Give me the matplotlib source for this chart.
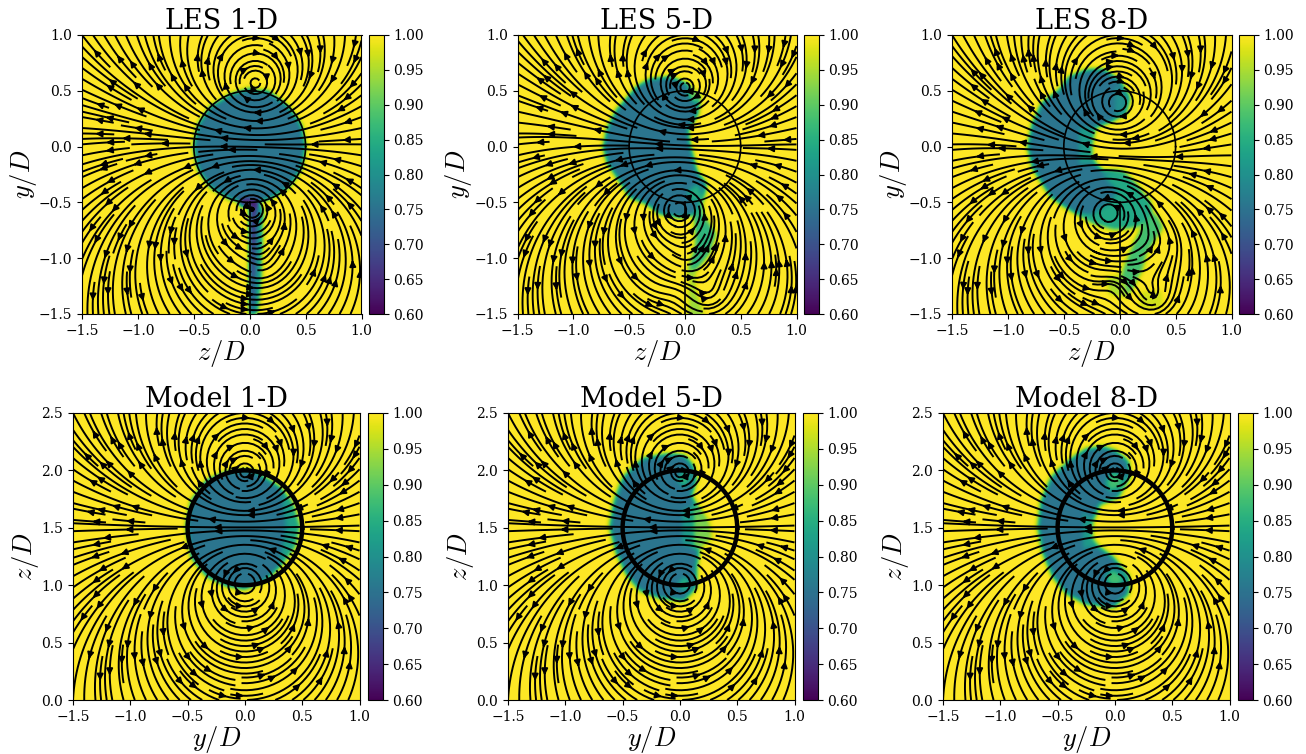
import numpy as np
import matplotlib
matplotlib.use("Agg")
import matplotlib.pyplot as plt
from matplotlib.path import Path

plt.rcParams['font.family'] = 'DejaVu Serif'
plt.rcParams['mathtext.fontset'] = 'cm'

W, H = 1306, 754

# Wake regions: (outline as (horizontal, vertical) points, velocity ratio)
les1_wake = [
    ([(0.0, 0.5), (0.17, 0.5), (0.35, 0.36), (0.46, 0.2), (0.5, 0.0), (0.46, -0.2), (0.35, -0.36),
      (0.17, -0.47), (0.0, -0.5), (-0.17, -0.47), (-0.35, -0.36), (-0.46, -0.2), (-0.5, 0.0),
      (-0.46, 0.2), (-0.35, 0.36), (-0.17, 0.47), (0.05, 0.54)], 0.755),
    ([(-0.1, -0.46), (0.1, -0.46), (0.06, -0.53), (-0.08, -0.53)], 0.63),
    ([(0.0, -0.5), (0.09, -0.5), (0.08, -0.9), (0.07, -1.5), (0.0, -1.5)], 0.64),
    ([(0.06, -0.55), (0.12, -0.55), (0.1, -1.2), (0.07, -1.5), (0.03, -1.5), (0.05, -0.9)], 0.8),
]
les5_wake = [
    ([(-0.31, 0.61), (-0.13, 0.63), (0.015, 0.57), (0.135, 0.46), (0.12, 0.30), (0.03, 0.15), (0.045, 0.03),
      (0.075, -0.09), (0.105, -0.21), (0.195, -0.33), (0.165, -0.48), (0.105, -0.6), (-0.045, -0.63),
      (-0.22, -0.6), (-0.34, -0.51), (-0.49, -0.45), (-0.58, -0.31), (-0.69, -0.15), (-0.73, 0.0),
      (-0.69, 0.18), (-0.61, 0.33), (-0.43, 0.54)], 0.755),
    ([(0.165, -0.6), (0.28, -0.78), (0.22, -0.96), (0.1, -1.11), (0.06, -1.25), (0.03, -1.1),
      (0.1, -0.87), (0.08, -0.6), (0.15, -0.45)], 0.86),
    ([(0.1, -1.11), (0.1, -1.29), (0.165, -1.47), (0.165, -1.52), (0.03, -1.52), (0.04, -1.29), (0.05, -1.08)], 0.94),
    ([(0.02, 0.54), (0.12, 0.47), (0.1, 0.38), (0.04, 0.45)], 0.92),
    ([(0.02, -0.4), (0.12, -0.32), (0.17, -0.46), (0.06, -0.5)], 0.85),
]
les8_wake = [
    ([(-0.3, 0.69), (-0.15, 0.70), (0.0, 0.6), (0.09, 0.45), (0.06, 0.3), (-0.09, 0.22), (-0.21, 0.18),
      (-0.24, 0.06), (-0.25, -0.06), (-0.21, -0.15), (-0.15, -0.21), (0.03, -0.21), (0.15, -0.33),
      (0.24, -0.48), (0.18, -0.63), (0.03, -0.66), (-0.15, -0.66), (-0.33, -0.63), (-0.48, -0.54),
      (-0.61, -0.45), (-0.69, -0.33), (-0.78, -0.18), (-0.82, 0.0), (-0.78, 0.21), (-0.69, 0.40),
      (-0.54, 0.51), (-0.45, 0.63)], 0.755),
    ([(-0.36, 0.18), (-0.21, 0.18), (-0.24, 0.06), (-0.25, -0.06), (-0.21, -0.15), (-0.36, -0.15)], 0.82),
    ([(-0.15, -0.25), (0.03, -0.21), (0.15, -0.33), (0.28, -0.5), (0.3, -0.63), (0.15, -0.72), (-0.05, -0.74),
      (-0.25, -0.68), (-0.42, -0.58), (-0.25, -0.6), (-0.1, -0.5), (-0.02, -0.4)], 0.84),
    ([(0.33, -0.6), (0.39, -0.72), (0.24, -0.96), (0.21, -1.08), (0.12, -1.26), (0.06, -1.35), (0.0, -1.2),
      (0.03, -1.1), (0.06, -1.02), (0.15, -0.81), (0.24, -0.63)], 0.88),
    ([(0.06, -1.2), (0.06, -1.35), (-0.09, -1.32), (-0.12, -1.17), (0.0, -1.15)], 0.95),
    ([(0.18, -1.3), (0.38, -1.3), (0.38, -1.45), (0.18, -1.45)], 0.97),
    ([(-0.05, 0.55), (0.05, 0.5), (0.06, 0.32), (-0.05, 0.26)], 0.8),
]
model1_wake = [
    ([(0.0, 2.01), (0.1, 1.99), (0.3, 1.86), (0.42, 1.72), (0.48, 1.52), (0.44, 1.34), (0.3, 1.16), (0.19, 1.05),
      (0.0, 0.97), (-0.16, 1.0), (-0.33, 1.08), (-0.465, 1.25), (-0.51, 1.52), (-0.465, 1.74),
      (-0.33, 1.92), (-0.16, 1.99)], 0.755),
    ([(0.32, 1.8), (0.42, 1.72), (0.48, 1.52), (0.44, 1.34), (0.3, 1.2), (0.36, 1.5)], 0.83),
]
model5_wake = [
    ([(-0.12, 2.145), (0.03, 2.14), (0.115, 2.05), (0.145, 1.92), (0.1, 1.78), (0.145, 1.71), (0.26, 1.54),
      (0.28, 1.42), (0.17, 1.31), (0.145, 1.16), (0.145, 0.99), (0.04, 0.87), (-0.17, 0.89), (-0.35, 0.96),
      (-0.465, 1.1), (-0.55, 1.28), (-0.61, 1.51), (-0.57, 1.74), (-0.49, 1.95), (-0.32, 2.11)], 0.755),
    ([(0.04, 2.02), (0.1, 1.95), (0.05, 1.85), (-0.03, 1.92)], 0.86),
    ([(0.04, 1.08), (0.1, 1.02), (0.05, 0.95), (-0.03, 1.0)], 0.86),
    ([(0.02, 1.66), (0.14, 1.71), (0.14, 1.32), (0.02, 1.36)], 0.82),
    ([(0.12, 1.71), (0.26, 1.54), (0.28, 1.42), (0.17, 1.31), (0.12, 1.33)], 0.92),
]
model8_wake = [
    ([(-0.10, 2.21), (0.015, 2.17), (0.12, 2.08), (0.13, 1.95), (0.03, 1.77), (-0.13, 1.71), (-0.19, 1.57),
      (-0.2, 1.42), (-0.145, 1.34), (-0.015, 1.25), (0.12, 1.08), (0.12, 0.93), (-0.015, 0.81), (-0.25, 0.84),
      (-0.42, 0.93), (-0.54, 1.08), (-0.625, 1.28), (-0.67, 1.51), (-0.64, 1.74), (-0.55, 1.95),
      (-0.36, 2.12), (-0.25, 2.19)], 0.755),
    ([(-0.02, 2.0), (0.08, 1.95), (0.06, 1.85), (-0.05, 1.82), (-0.08, 1.9)], 0.88),
    ([(-0.02, 1.15), (0.08, 1.08), (0.06, 1.0), (-0.05, 1.0), (-0.08, 1.08)], 0.88),
    ([(-0.28, 1.65), (-0.19, 1.57), (-0.2, 1.42), (-0.14, 1.34), (-0.28, 1.32)], 0.82),
]

# Vortex positions and strengths estimated from the streamline patterns
les1_vz = [0.05, 0.02, 0.12]
les1_vy = [0.56, -0.55, -1.05]
les1_g = [-1.0, 1.0, 0.1]

les5_vz = [0.0, -0.05, 0.22, -0.08, 0.02]
les5_vy = [0.52, -0.55, -1.33, -1.32, -1.0]
les5_g = [-1.0, 1.0, 0.1, -0.06, 0.1]

les8_vz = [-0.02, -0.1, 0.3, -0.05, 0.35]
les8_vy = [0.38, -0.58, -1.35, -1.22, -0.85]
les8_g = [-1.0, 1.0, 0.12, -0.08, 0.08]

model_vy = [0.0, 0.0]
model_vz = [1.97, 1.03]
model_g = [-1.0, 1.0]

les_titles = ["LES 1-D", "LES 5-D", "LES 8-D"]
model_titles = ["Model 1-D", "Model 5-D", "Model 8-D"]
cbar_ticks = [0.60, 0.65, 0.70, 0.75, 0.80, 0.85, 0.90, 0.95, 1.00]
x_ticks = [-1.5, -1.0, -0.5, 0.0, 0.5, 1.0]
les_yticks = [-1.5, -1.0, -0.5, 0.0, 0.5, 1.0]
model_yticks = [0.0, 0.5, 1.0, 1.5, 2.0, 2.5]


def wake_field(regions, X, Y, step):
    # paint the regions one over the other, then soften the edges
    pts = np.column_stack([X.ravel(), Y.ravel()])
    field = np.ones(X.shape)
    for outline, value in regions:
        mask = Path(outline).contains_points(pts).reshape(X.shape)
        field[mask] = value
    sigma = 0.02 / step
    half = int(3 * sigma) + 1
    kernel = np.exp(-0.5 * (np.arange(-half, half + 1) / sigma) ** 2)
    kernel /= kernel.sum()
    padded = np.pad(field, half, mode='edge')
    padded = np.apply_along_axis(lambda r: np.convolve(r, kernel, mode='same'), 0, padded)
    padded = np.apply_along_axis(lambda r: np.convolve(r, kernel, mode='same'), 1, padded)
    return padded[half:-half, half:-half]


def swirl(vx, vy, gamma, X, Y):
    u = np.zeros(X.shape)
    v = np.zeros(X.shape)
    for x0, y0, g in zip(vx, vy, gamma):
        dx, dy = X - x0, Y - y0
        r2 = dx ** 2 + dy ** 2 + 1e-6
        core = 1 - np.exp(-r2 / 0.01)
        u += -g * dy / r2 * core
        v += g * dx / r2 * core
    return u, v


def panel(box, cbox, title, regions, vx, vy, gamma, ylim, yticks, xlabel, ylabel):
    ax = fig.add_axes([box[0] / W, 1 - box[3] / H, (box[1] - box[0]) / W, (box[3] - box[2]) / H])
    xs = np.linspace(-1.5, 1.0, 301)
    ys = np.linspace(ylim[0], ylim[1], 301)
    X, Y = np.meshgrid(xs, ys)
    im = ax.pcolormesh(X, Y, wake_field(regions, X, Y, xs[1] - xs[0]), cmap='viridis', vmin=0.6, vmax=1.0,
                       shading='gouraud', rasterized=True)
    u, v = swirl(vx, vy, gamma, X, Y)
    ax.streamplot(xs, ys, u, v, color='k', density=1.75, linewidth=1.4, arrowsize=0.9)
    ax.set_xlim(-1.5, 1.0)
    ax.set_ylim(*ylim)
    ax.set_xticks(x_ticks)
    ax.set_yticks(yticks)
    ax.tick_params(labelsize=10)
    ax.set_title(title, fontsize=19.5, pad=3)
    ax.set_xlabel(xlabel, fontsize=19, labelpad=0)
    ax.set_ylabel(ylabel, fontsize=19, labelpad=0)

    cax = fig.add_axes([cbox[0] / W, 1 - box[3] / H, (cbox[1] - cbox[0]) / W, (box[3] - box[2]) / H])
    cb = fig.colorbar(im, cax=cax)
    cb.set_ticks(cbar_ticks)
    cb.ax.set_yticklabels(["%.2f" % t for t in cbar_ticks])
    cb.ax.tick_params(labelsize=10)
    return ax


fig = plt.figure(figsize=(W / 100, H / 100), dpi=100)

# top row, LES
les_regions = [les1_wake, les5_wake, les8_wake]
les_vortices = [(les1_vz, les1_vy, les1_g), (les5_vz, les5_vy, les5_g), (les8_vz, les8_vy, les8_g)]
les_boxes = [(82, 361.5, 35, 314), (517.5, 796.5, 35, 314), (952, 1231.5, 35, 314)]
les_cboxes = [(369, 383.5), (804, 818.5), (1239, 1253.5)]
for i in range(3):
    ax = panel(les_boxes[i], les_cboxes[i], les_titles[i], les_regions[i], *les_vortices[i],
               (-1.5, 1.0), les_yticks, r"$z/D$", r"$y/D$")
    th = np.linspace(0, 2 * np.pi, 200)
    ax.plot(0.5 * np.cos(th), 0.5 * np.sin(th), 'k', lw=1.2)
    ax.plot([0, 0], [-1.5, -0.5], 'k', lw=1.2)

# bottom row, model
model_regions = [model1_wake, model5_wake, model8_wake]
model_boxes = [(73, 359.5, 413, 700), (508, 794.5, 413, 700), (943, 1229.5, 413, 700)]
model_cboxes = [(367.5, 382.5), (802.5, 817.5), (1237.5, 1252.5)]
for i in range(3):
    ax = panel(model_boxes[i], model_cboxes[i], model_titles[i], model_regions[i], model_vy, model_vz, model_g,
               (0.0, 2.5), model_yticks, r"$y/D$", r"$z/D$")
    th = np.linspace(0, 2 * np.pi, 200)
    ax.plot(0.5 * np.cos(th), 1.5 + 0.5 * np.sin(th), 'k', lw=3.2)

fig.savefig("out.png", dpi=100)
